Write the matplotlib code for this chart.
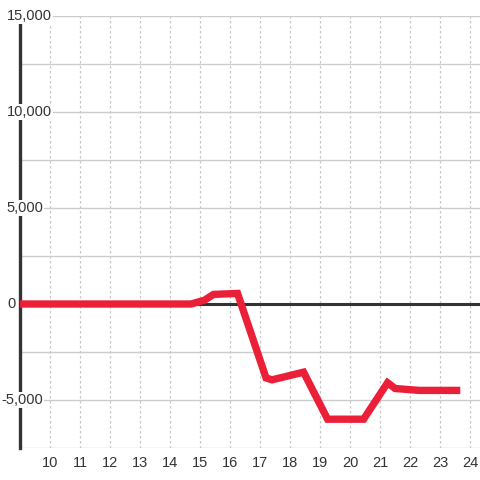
import matplotlib.pyplot as plt
import matplotlib.transforms as mtransforms
import numpy as np

# Data
hours = [9.0, 14.7, 15.15, 15.45, 16.25, 17.2, 17.4, 18.45, 19.25, 20.45, 21.25, 21.5, 22.3, 23.55]
values = [0, 0, 200, 500, 550, -3850, -3950, -3550, -6000, -6000, -4100, -4400, -4500, -4500]

x_ticks = list(range(10, 25))
y_grid = np.arange(-7500, 15001, 2500)
y_labels = [15000, 10000, 5000, 0, -5000]
# right edge of each y label, in pixels from the figure's left
y_label_right = [52, 52, 43, 16, 43]

plt.rcParams['font.family'] = ['Liberation Sans', 'DejaVu Sans']

fig = plt.figure(figsize=(4.8, 4.8), dpi=100)
ax = fig.add_axes([20 / 480, 32 / 480, 460 / 480, 432 / 480])

ax.set_xlim(9, 24.33)
ax.set_ylim(-7500, 15000)

# grid
for y in y_grid:
    if y == 0:
        continue
    ax.axhline(y, color='#cccccc', lw=1, zorder=1)
for x in x_ticks:
    ax.axvline(x, color='#c8c8c8', lw=0.9, ls=(0, (2, 2)), zorder=1)
ax.axhline(0, color='#333333', lw=2.2, zorder=2)

# series
ax.plot(hours, values, color='#ec1f38', lw=5.3, zorder=3, solid_joinstyle='miter')

for side in ['top', 'right', 'bottom']:
    ax.spines[side].set_visible(False)
ax.spines['left'].set_color('#333333')
ax.spines['left'].set_linewidth(2.4)
ax.spines['left'].set_zorder(2)

ax.set_xticks(x_ticks)
ax.set_xticklabels([str(t) for t in x_ticks])
ax.tick_params(axis='x', length=0, pad=6, labelsize=10.5, labelcolor='#333333')
ax.set_yticks([])

# y labels sit over the axis with a white box
tr = mtransforms.blended_transform_factory(fig.transFigure, ax.transData)
for val, right in zip(y_labels, y_label_right):
    ax.text(right / 480, val, f'{val:,}', transform=tr, ha='right', va='center',
            fontsize=10.5, color='#333333', zorder=5,
            bbox=dict(boxstyle='square,pad=0.1', fc='white', ec='none'))

fig.savefig('out.png', dpi=100)
